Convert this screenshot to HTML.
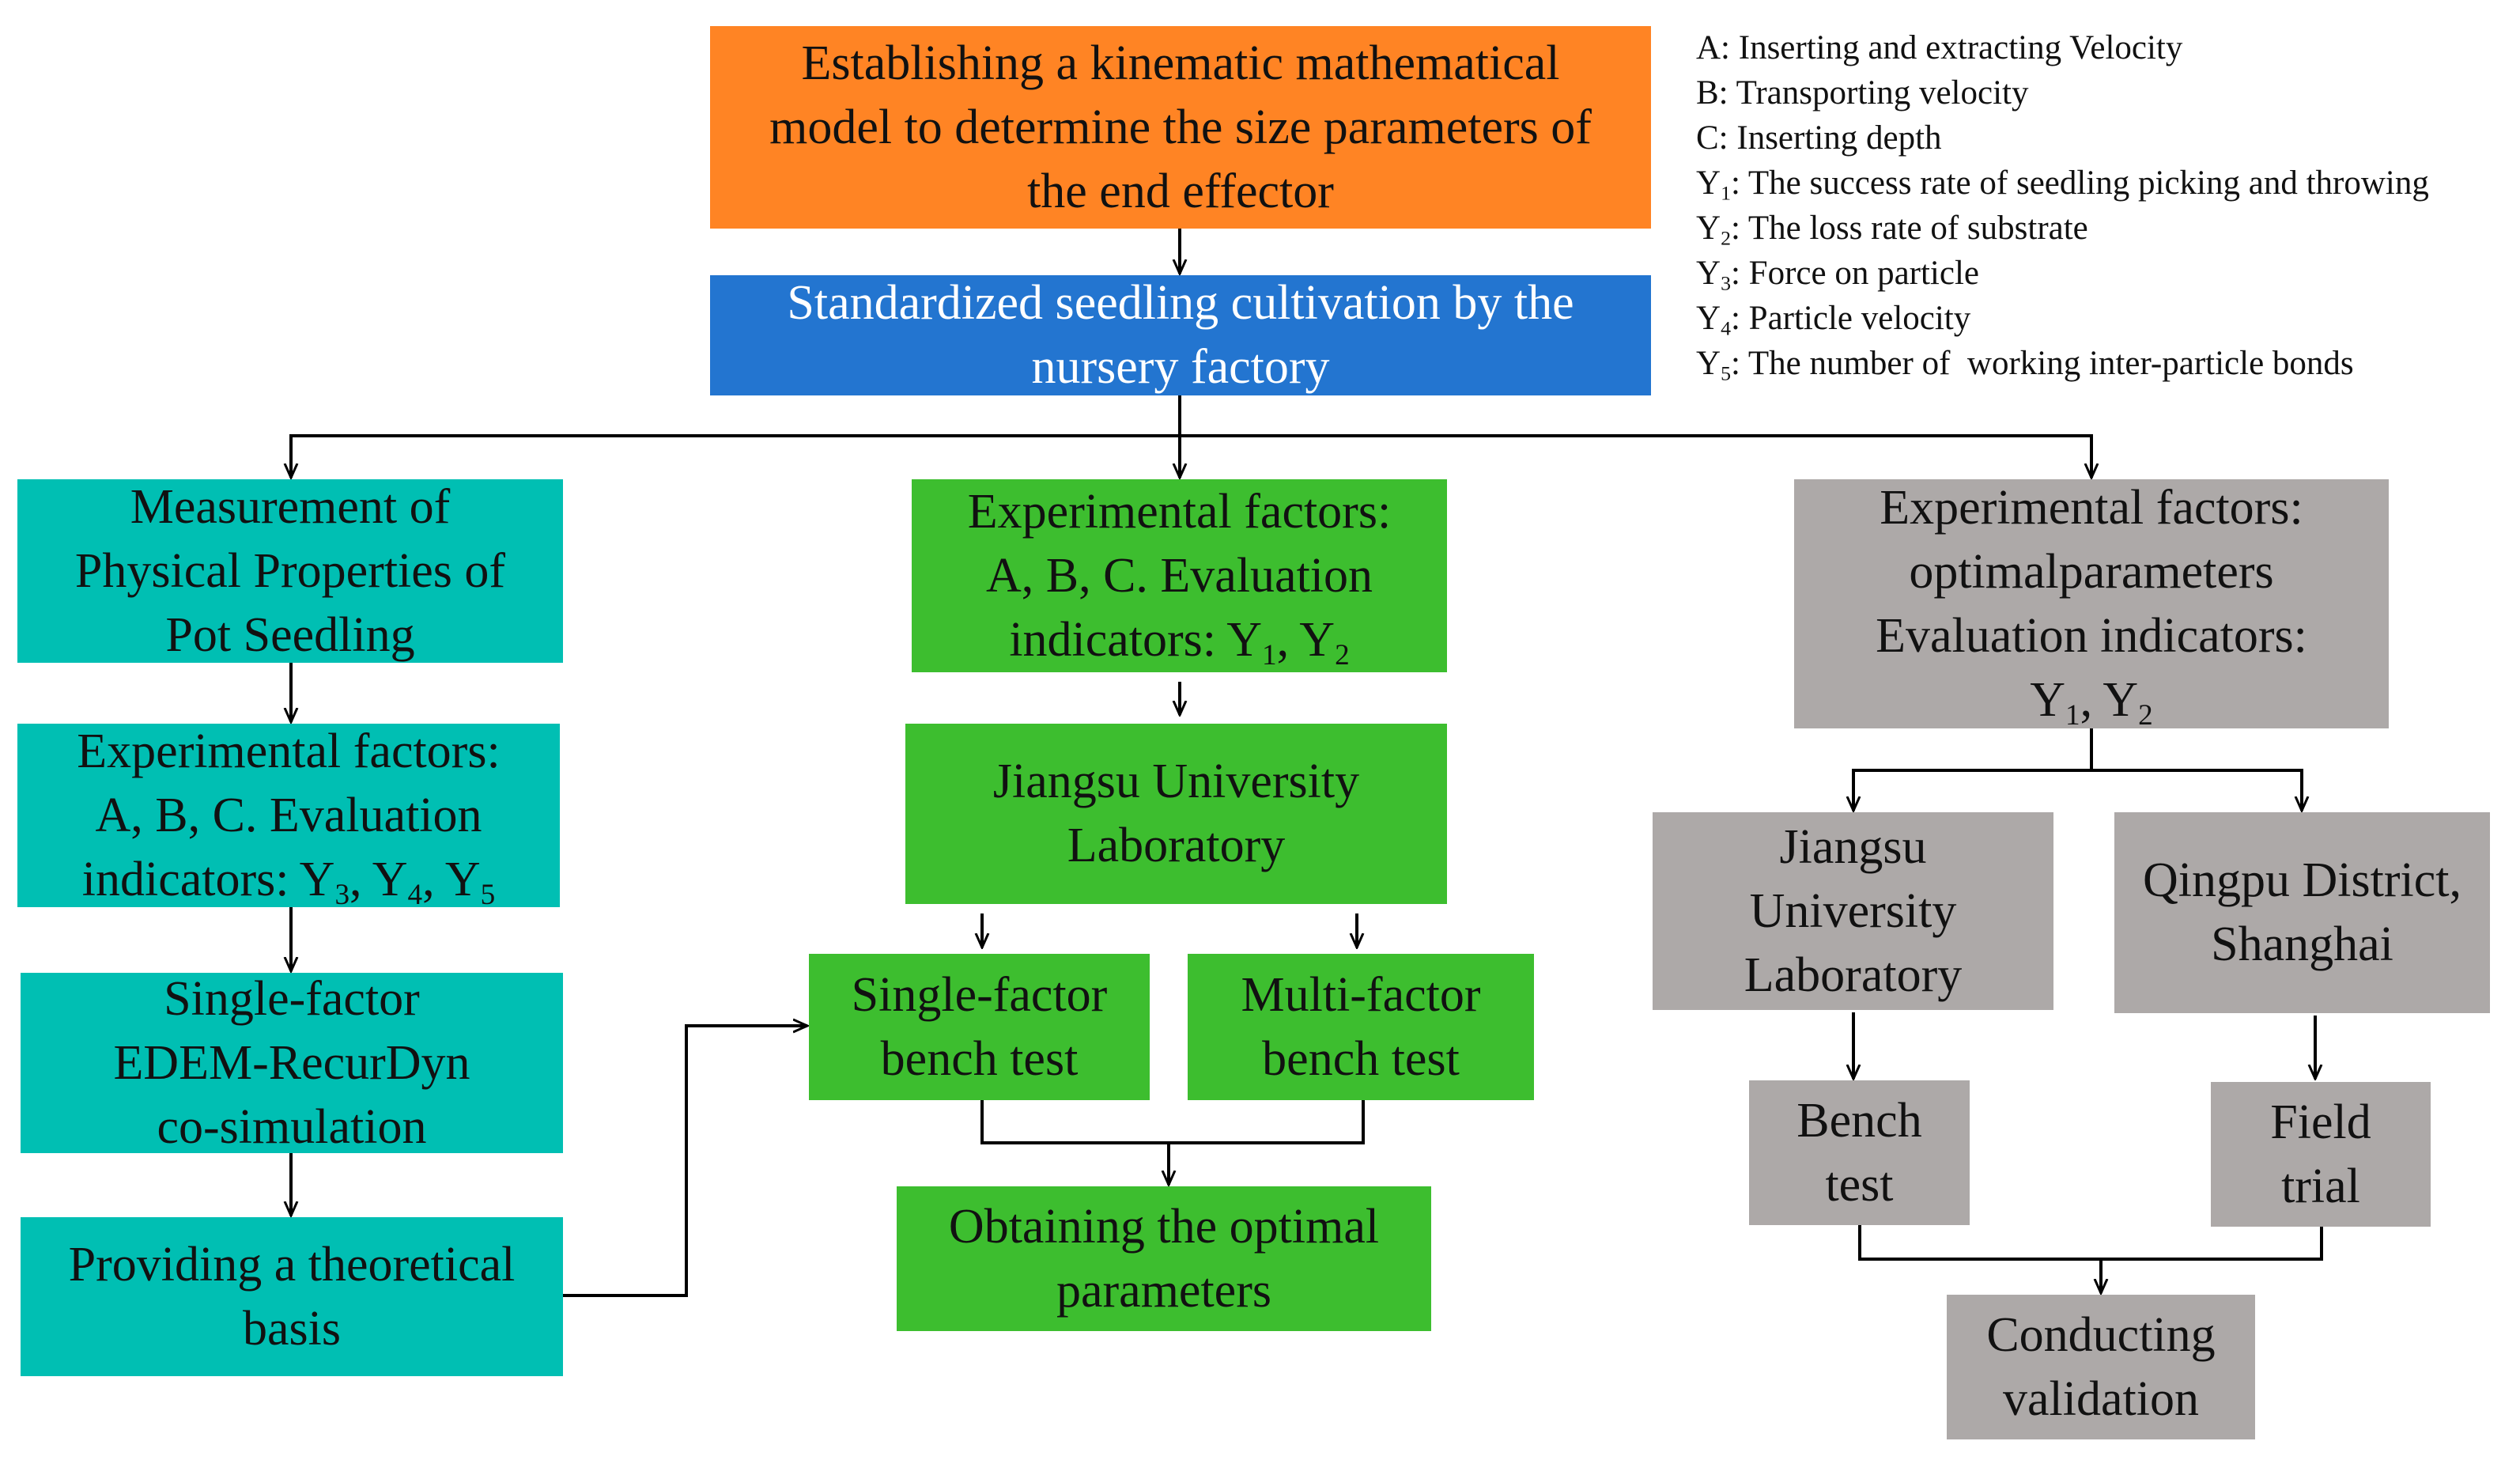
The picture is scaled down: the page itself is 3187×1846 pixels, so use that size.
<!DOCTYPE html>
<html><head><meta charset="utf-8"><style>
body{margin:0;width:3187px;height:1846px;background:#fff;position:relative;overflow:hidden;font-family:"Liberation Serif",serif}
.b{position:absolute;display:flex;align-items:center;justify-content:center;text-align:center;font-size:62px;line-height:81px;color:#111;box-sizing:border-box;padding:0 4px;font-family:"Liberation Serif",serif;white-space:nowrap}
.b span{display:block}
.o{background:#FF8424}.bl{background:#2375D0;color:#fff}.t{background:#00BFB3}.g{background:#3DBE2F}.gr{background:#ADA9A8}
sub{font-size:0.6em;vertical-align:-0.3em;line-height:0}
.leg{position:absolute;left:2145px;top:32px;font-size:43px;line-height:57px;color:#111}
svg{position:absolute;left:0;top:0}
</style></head><body>
<svg width="3187" height="1846" viewBox="0 0 3187 1846">
<defs><marker id="a" markerWidth="20" markerHeight="20" refX="18" refY="10" orient="auto" markerUnits="userSpaceOnUse" viewBox="0 0 20 20"><path d="M0,2 L18,10 L0,18" fill="none" stroke="#000" stroke-width="3"/></marker></defs>
<g stroke="#000" stroke-width="4" fill="none">
<line x1="1492" y1="289" x2="1492" y2="346" marker-end="url(#a)"/>
<line x1="1492" y1="500" x2="1492" y2="604" marker-end="url(#a)"/>
<line x1="366" y1="551" x2="2647" y2="551"/>
<line x1="368" y1="551" x2="368" y2="604" marker-end="url(#a)"/>
<line x1="2645" y1="551" x2="2645" y2="604" marker-end="url(#a)"/>
<line x1="368" y1="838" x2="368" y2="913" marker-end="url(#a)"/>
<line x1="368" y1="1147" x2="368" y2="1228" marker-end="url(#a)"/>
<line x1="368" y1="1458" x2="368" y2="1537" marker-end="url(#a)"/>
<line x1="1492" y1="862" x2="1492" y2="904" marker-end="url(#a)"/>
<line x1="1242" y1="1155" x2="1242" y2="1198" marker-end="url(#a)"/>
<line x1="1716" y1="1155" x2="1716" y2="1198" marker-end="url(#a)"/>
<polyline points="1242,1391 1242,1445 1724,1445 1724,1391"/>
<line x1="1478" y1="1445" x2="1478" y2="1498" marker-end="url(#a)"/>
<polyline points="712,1638 868,1638 868,1297 1021,1297" marker-end="url(#a)"/>
<line x1="2645" y1="921" x2="2645" y2="974"/>
<line x1="2342" y1="974" x2="2913" y2="974"/>
<line x1="2344" y1="974" x2="2344" y2="1025" marker-end="url(#a)"/>
<line x1="2911" y1="974" x2="2911" y2="1025" marker-end="url(#a)"/>
<line x1="2344" y1="1280" x2="2344" y2="1364" marker-end="url(#a)"/>
<line x1="2928" y1="1284" x2="2928" y2="1364" marker-end="url(#a)"/>
<polyline points="2352,1549 2352,1592 2936,1592 2936,1551"/>
<line x1="2657" y1="1592" x2="2657" y2="1635" marker-end="url(#a)"/>
</g></svg>
<div class="b o" style="left:898px;top:33px;width:1190px;height:256px"><span>Establishing a kinematic mathematical<br>model to determine the size parameters of<br>the end effector</span></div>
<div class="b bl" style="left:898px;top:348px;width:1190px;height:152px"><span>Standardized seedling cultivation by the<br>nursery factory</span></div>
<div class="leg">A: Inserting and extracting Velocity<br>B: Transporting velocity<br>C: Inserting depth<br>Y<sub>1</sub>: The success rate of seedling picking and throwing<br>Y<sub>2</sub>: The loss rate of substrate<br>Y<sub>3</sub>: Force on particle<br>Y<sub>4</sub>: Particle velocity<br>Y<sub>5</sub>: The number of &nbsp;working inter-particle bonds</div>
<div class="b t" style="left:22px;top:606px;width:690px;height:232px"><span>Measurement of<br>Physical Properties of<br>Pot Seedling</span></div>
<div class="b t" style="left:22px;top:915px;width:686px;height:232px"><span>Experimental factors:<br>A, B, C. Evaluation<br>indicators: Y<sub>3</sub>, Y<sub>4</sub>, Y<sub>5</sub></span></div>
<div class="b t" style="left:26px;top:1230px;width:686px;height:228px"><span>Single-factor<br>EDEM-RecurDyn<br>co-simulation</span></div>
<div class="b t" style="left:26px;top:1539px;width:686px;height:201px"><span>Providing a theoretical<br>basis</span></div>
<div class="b g" style="left:1153px;top:606px;width:677px;height:244px"><span>Experimental factors:<br>A, B, C. Evaluation<br>indicators: Y<sub>1</sub>, Y<sub>2</sub></span></div>
<div class="b g" style="left:1145px;top:915px;width:685px;height:228px"><span>Jiangsu University<br>Laboratory</span></div>
<div class="b g" style="left:1023px;top:1206px;width:431px;height:185px"><span>Single-factor<br>bench test</span></div>
<div class="b g" style="left:1502px;top:1206px;width:438px;height:185px"><span>Multi-factor<br>bench test</span></div>
<div class="b g" style="left:1134px;top:1500px;width:676px;height:183px"><span>Obtaining the optimal<br>parameters</span></div>
<div class="b gr" style="left:2269px;top:606px;width:752px;height:315px"><span>Experimental factors:<br>optimalparameters<br>Evaluation indicators:<br>Y<sub>1</sub>, Y<sub>2</sub></span></div>
<div class="b gr" style="left:2090px;top:1027px;width:507px;height:250px"><span>Jiangsu<br>University<br>Laboratory</span></div>
<div class="b gr" style="left:2674px;top:1027px;width:475px;height:254px"><span>Qingpu District,<br>Shanghai</span></div>
<div class="b gr" style="left:2212px;top:1366px;width:279px;height:183px"><span>Bench<br>test</span></div>
<div class="b gr" style="left:2796px;top:1368px;width:278px;height:183px"><span>Field<br>trial</span></div>
<div class="b gr" style="left:2462px;top:1637px;width:390px;height:183px"><span>Conducting<br>validation</span></div>
</body></html>
